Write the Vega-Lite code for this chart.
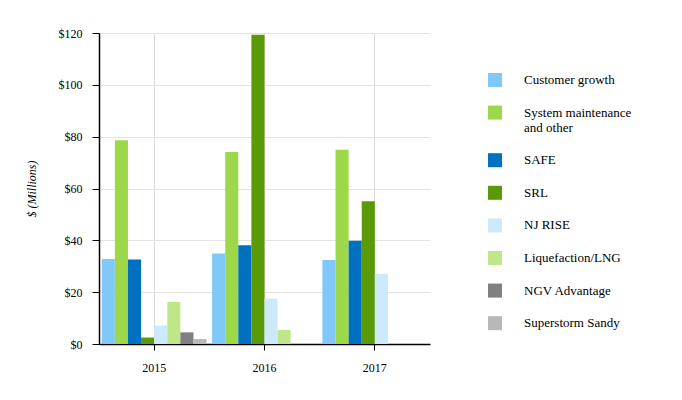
{
  "$schema": "https://vega.github.io/schema/vega-lite/v6.json",
  "autosize": "none",
  "padding": {"left": 99, "top": 33, "right": 252, "bottom": 56},
  "width": 331,
  "height": 311,
  "background": "white",
  "config": {
    "font": "Liberation Serif, Times New Roman, serif",
    "view": {"stroke": null},
    "axis": {"labelFont": "Liberation Serif, Times New Roman, serif", "titleFont": "Liberation Serif, Times New Roman, serif"},
    "legend": {"labelFont": "Liberation Serif, Times New Roman, serif"}
  },
  "data": {
    "values": [
      {"year": "2015", "category": "Customer growth", "amount": 32.8},
      {"year": "2015", "category": "System maintenance and other", "amount": 78.6},
      {"year": "2015", "category": "SAFE", "amount": 32.6},
      {"year": "2015", "category": "SRL", "amount": 2.5},
      {"year": "2015", "category": "NJ RISE", "amount": 7.1},
      {"year": "2015", "category": "Liquefaction/LNG", "amount": 16.2},
      {"year": "2015", "category": "NGV Advantage", "amount": 4.5},
      {"year": "2015", "category": "Superstorm Sandy", "amount": 1.9},
      {"year": "2016", "category": "Customer growth", "amount": 34.9},
      {"year": "2016", "category": "System maintenance and other", "amount": 74.1},
      {"year": "2016", "category": "SAFE", "amount": 38.1},
      {"year": "2016", "category": "SRL", "amount": 119.3},
      {"year": "2016", "category": "NJ RISE", "amount": 17.5},
      {"year": "2016", "category": "Liquefaction/LNG", "amount": 5.4},
      {"year": "2016", "category": "NGV Advantage", "amount": 0},
      {"year": "2016", "category": "Superstorm Sandy", "amount": 0},
      {"year": "2017", "category": "Customer growth", "amount": 32.4},
      {"year": "2017", "category": "System maintenance and other", "amount": 75.0},
      {"year": "2017", "category": "SAFE", "amount": 39.8},
      {"year": "2017", "category": "SRL", "amount": 55.1},
      {"year": "2017", "category": "NJ RISE", "amount": 27.1},
      {"year": "2017", "category": "Liquefaction/LNG", "amount": 0},
      {"year": "2017", "category": "NGV Advantage", "amount": 0},
      {"year": "2017", "category": "Superstorm Sandy", "amount": 0}
    ]
  },
  "mark": {"type": "bar"},
  "encoding": {
    "x": {
      "field": "year",
      "type": "nominal",
      "title": null,
      "scale": {"paddingInner": 0.05, "paddingOuter": 0.025},
      "axis": {
        "bandPosition": 0.5,
        "grid": true,
        "gridColor": "#d9d9d9",
        "labelAngle": 0,
        "labelFontSize": 12,
        "labelColor": "#000000",
        "labelPadding": 12,
        "domainColor": "#000000",
        "domainWidth": 1.5,
        "tickColor": "#000000",
        "tickSize": 6
      }
    },
    "xOffset": {
      "field": "category",
      "type": "nominal",
      "sort": ["Customer growth", "System maintenance and other", "SAFE", "SRL", "NJ RISE", "Liquefaction/LNG", "NGV Advantage", "Superstorm Sandy"],
      "scale": {"paddingInner": 0, "paddingOuter": 0}
    },
    "y": {
      "field": "amount",
      "type": "quantitative",
      "title": "$ (Millions)",
      "scale": {"domain": [0, 120], "nice": false},
      "axis": {
        "values": [0, 20, 40, 60, 80, 100, 120],
        "format": "$,d",
        "gridColor": "#e3e3e3",
        "labelFontSize": 12,
        "labelColor": "#000000",
        "labelPadding": 10,
        "domainColor": "#000000",
        "domainWidth": 1.5,
        "tickColor": "#000000",
        "tickSize": 7,
        "titleFontStyle": "italic",
        "titleFontWeight": "normal",
        "titleFontSize": 12,
        "titleColor": "#000000",
        "titlePadding": 20
      }
    },
    "color": {
      "field": "category",
      "type": "nominal",
      "sort": ["Customer growth", "System maintenance and other", "SAFE", "SRL", "NJ RISE", "Liquefaction/LNG", "NGV Advantage", "Superstorm Sandy"],
      "scale": {
        "domain": ["Customer growth", "System maintenance and other", "SAFE", "SRL", "NJ RISE", "Liquefaction/LNG", "NGV Advantage", "Superstorm Sandy"],
        "range": ["#80c8fa", "#9cd84a", "#0070c0", "#5a9a08", "#cdeafd", "#c0e68a", "#808080", "#b8b8b8"]
      },
      "legend": {
        "title": null,
        "orient": "none",
        "legendX": 389,
        "legendY": 40,
        "symbolType": "square",
        "symbolSize": 196,
        "symbolStrokeWidth": 0,
        "labelFontSize": 13,
        "labelColor": "#000000",
        "labelOffset": 22,
        "labelLimit": 200,
        "rowPadding": 18.6,
        "labelExpr": "datum.label == 'System maintenance and other' ? ['System maintenance', 'and other'] : datum.label"
      }
    }
  }
}
